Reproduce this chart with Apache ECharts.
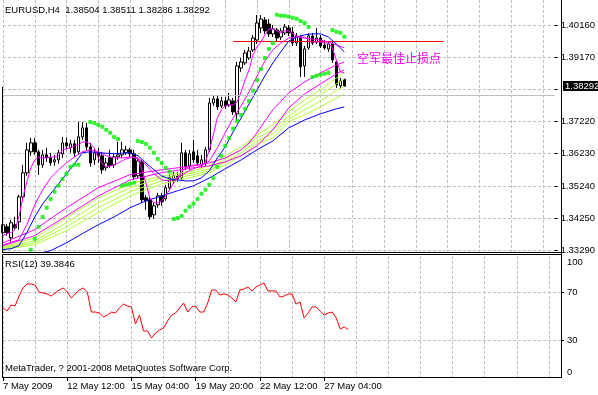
<!DOCTYPE html>
<html><head><meta charset="utf-8">
<script src="https://cdn.jsdelivr.net/npm/echarts@6.0.0/dist/echarts.min.js"></script>
<style>html,body{margin:0;padding:0;background:#fff}#c{width:598px;height:395px}</style>
</head><body><div id="c"></div>
<script>
const FONT = 'Liberation Sans';
const FS = 9.5;
const barCount = 140;
const categories = Array.from({length: barCount}, (_, i) => String(i));
const xTickLabels = ['7 May 2009', '12 May 12:00', '15 May 04:00', '19 May 20:00', '22 May 12:00', '27 May 04:00'];
const priceTicks = [1.33290, 1.34250, 1.35240, 1.36230, 1.37220, 1.38200, 1.39170, 1.40160];
const priceTickLabels = ['1.33290', '1.34250', '1.35240', '1.36230', '1.37220', '', '1.39170', '1.40160'];
const rsiTicks = [0, 30, 70, 100];
const titleText = 'EURUSD,H4  1.38504 1.38511 1.38286 1.38292';
const rsiTitle = 'RSI(12) 39.3846';
const copyright = 'MetaTrader, ? 2001-2008 MetaQuotes Software Corp.';
const noteText = '空军最佳止损点';
const bidPrice = 1.38292;
const bidLabel = '1.38292';
const stopLevel = 1.39656;
const stopFrom = 58, stopTo = 111;

// [open, close, low, high]
const candles = [
[1.33816,1.34060,1.33664,1.34152],[1.33999,1.33816,1.33725,1.34091],[1.33664,1.34121,1.33542,1.34213],
[1.34060,1.33969,1.33908,1.34304],[1.34152,1.34914,1.33908,1.34975],[1.34914,1.35646,1.34823,1.35890],
[1.35646,1.36348,1.35555,1.36561],[1.36287,1.36561,1.36165,1.36714],[1.36561,1.36287,1.36195,1.36714],
[1.36287,1.35890,1.35585,1.36348],[1.35890,1.36195,1.35799,1.36348],[1.36195,1.36104,1.35982,1.36409],
[1.36104,1.35951,1.35860,1.36256],[1.35982,1.36043,1.35860,1.36195],[1.36043,1.36256,1.35921,1.36348],
[1.36226,1.36561,1.36104,1.36744],[1.36561,1.36470,1.36348,1.36714],[1.36409,1.36531,1.36256,1.36653],
[1.36531,1.36256,1.36134,1.36653],[1.36287,1.36744,1.36226,1.37202],[1.36744,1.37019,1.36653,1.37202],
[1.37019,1.36439,1.36348,1.37171],[1.36439,1.35951,1.35829,1.36561],[1.36043,1.36256,1.35890,1.36409],
[1.36256,1.36165,1.35951,1.36409],[1.36165,1.35738,1.35616,1.36287],[1.35799,1.35951,1.35707,1.36104],
[1.36104,1.35860,1.35799,1.36348],[1.35890,1.36134,1.35799,1.36256],[1.36134,1.36195,1.36043,1.36592],
[1.36195,1.36348,1.36104,1.36592],[1.36256,1.36348,1.36195,1.36470],[1.36348,1.36226,1.36134,1.36409],
[1.36226,1.35524,1.35433,1.36348],[1.35555,1.36012,1.35494,1.36104],[1.35982,1.34823,1.34731,1.36043],
[1.34884,1.34792,1.34518,1.34975],[1.34823,1.34304,1.34213,1.34914],[1.34365,1.34640,1.34243,1.34731],
[1.34670,1.34945,1.34579,1.35036],[1.34945,1.34762,1.34640,1.35036],[1.34853,1.35189,1.34792,1.35280],
[1.35189,1.35494,1.35128,1.35585],[1.35402,1.35555,1.35311,1.35677],[1.35555,1.35463,1.35372,1.35677],
[1.35494,1.36256,1.35433,1.36561],[1.36256,1.35829,1.35738,1.36348],[1.35860,1.36226,1.35738,1.36348],
[1.36287,1.36043,1.35951,1.36653],[1.36165,1.35951,1.35860,1.36348],[1.35890,1.36043,1.35799,1.36195],
[1.35951,1.36348,1.35860,1.36439],[1.36348,1.37781,1.36287,1.37934],[1.37781,1.37903,1.37690,1.38025],
[1.37903,1.37659,1.37568,1.38025],[1.37690,1.37842,1.37629,1.37964],[1.37842,1.37690,1.37598,1.37964],
[1.37720,1.37873,1.37659,1.38086],[1.37842,1.37507,1.37415,1.37934],[1.37446,1.38910,1.37232,1.39032],
[1.38849,1.39032,1.38727,1.39154],[1.39001,1.39306,1.38940,1.39398],[1.39154,1.39367,1.39093,1.39489],
[1.39398,1.39764,1.39337,1.39855],[1.39703,1.40221,1.39581,1.40465],[1.40069,1.40343,1.39916,1.40465],
[1.40313,1.39977,1.39886,1.40404],[1.40191,1.39886,1.39794,1.40343],[1.39886,1.40038,1.39794,1.40160],
[1.40008,1.39764,1.39642,1.40069],[1.39794,1.39977,1.39703,1.40069],[1.39916,1.40099,1.39855,1.40191],
[1.40069,1.39916,1.39825,1.40160],[1.39947,1.39611,1.39520,1.40099],[1.39611,1.39825,1.39520,1.39916],
[1.39794,1.38879,1.38574,1.39855],[1.38910,1.39428,1.38574,1.39520],[1.39459,1.39825,1.39398,1.39916],
[1.39825,1.39611,1.39550,1.39916],[1.39642,1.39764,1.39581,1.40069],[1.39764,1.39520,1.39459,1.39855],
[1.39550,1.39459,1.39398,1.39703],[1.39428,1.39581,1.39337,1.39672],[1.39581,1.39093,1.39001,1.39642],
[1.39032,1.38330,1.38239,1.39093],[1.38300,1.38452,1.38208,1.38544],[1.38504,1.38292,1.38286,1.38511]
];

// Parabolic SAR dots [bar, price]
const sarDots = [
[7,1.3330],[8,1.3363],[9,1.3400],[10,1.3430],[11,1.3458],[12,1.3485],[13,1.3507],[14,1.3525],[15,1.3546],
[16,1.3562],[17,1.3583],[18,1.3589],[19,1.3589],
[22,1.3720],[23,1.3717],[24,1.3711],[25,1.3705],[26,1.3696],[27,1.3687],[28,1.3674],[29,1.3668],
[30,1.3525],[31,1.3528],[32,1.3531],[33,1.3534],
[34,1.3662],[35,1.3659],[36,1.3653],[37,1.3641],[38,1.3626],[39,1.3607],[40,1.3595],[41,1.3580],[42,1.3568],
[43,1.3424],[44,1.3427],[45,1.3433],[46,1.3449],[47,1.3461],[48,1.3470],[49,1.3485],[50,1.3501],[51,1.3513],
[52,1.3528],[53,1.3549],[54,1.3583],[55,1.3617],[56,1.3647],[57,1.3671],[58,1.3699],[59,1.3723],[60,1.3741],
[61,1.3760],[62,1.3784],[63,1.3815],[64,1.3848],[65,1.3882],[66,1.3915],[67,1.3943],[68,1.3961],
[69,1.4047],[70,1.4044],[71,1.4044],[72,1.4041],[73,1.4038],[74,1.4035],[75,1.4028],[76,1.4022],[77,1.4010],
[78,1.3857],[79,1.3861],[80,1.3864],[81,1.3867],[82,1.3870],
[83,1.4001],[84,1.3995],[85,1.3992],[86,1.3980]
];

// moving averages (read at the bars listed)
const maFast = [1.3373,1.3379,1.3382,1.3391,1.3430,1.3488,1.3537,1.3580,1.3604,1.3613,1.3610,1.3610,1.3613,1.3613,1.3617,1.3635,
1.3638,1.3641,1.3647,1.3650,1.3659,1.3659,1.3653,1.3641,1.3610,1.3592,1.3583,1.3586,1.3589,1.3595,1.3601,1.3607,1.3610,1.3613,
1.3607,1.3574,1.3534,1.3488,1.3473,1.3473,1.3479,1.3495,1.3513,1.3534,1.3549,1.3568,1.3580,1.3583,1.3589,1.3589,1.3589,1.3598,
1.3635,1.3681,1.3732,1.3757,1.3769,1.3772,1.3772,1.3781,1.3812,1.3848,1.3879,1.3925,1.3949,1.3964,1.3986,1.4004,1.4004,1.3998,
1.3992,1.3998,1.3998,1.3989,1.3982,1.3979,1.3979,1.3970,1.3964,1.3964,1.3964,1.3961,1.3961,1.3946,1.3909,1.3873,1.3870];
const magentaMidBars = [0,4,6,8,10,12,14,16,18,20,22,24,26,28,30,32,34,36,38,40,42,44,46,48,50,52,54,56,58,60,62,64,66,68,70,
72,74,76,78,80,82,84,86];
const magentaMid = [1.3345,1.3360,1.3406,1.3467,1.3513,1.3549,1.3574,1.3595,1.3613,1.3629,1.3635,1.3629,1.3617,1.3610,1.3610,
1.3613,1.3610,1.3589,1.3562,1.3543,1.3540,1.3549,1.3565,1.3577,1.3586,1.3601,1.3641,1.3687,1.3732,1.3769,1.3812,1.3860,
1.3906,1.3940,1.3961,1.3976,1.3979,1.3976,1.3973,1.3970,1.3964,1.3955,1.3946];
const blueFast = [[0,1.3330],[2,1.3333],[4,1.3342],[6,1.3382],[8,1.3430],[10,1.3470],[12,1.3501],[14,1.3531],[16,1.3562],
[18,1.3592],[20,1.3626],[22,1.3629],[24,1.3626],[28,1.3623],[32,1.3626],[34,1.3617],[36,1.3595],[38,1.3574],[40,1.3555],
[42,1.3546],[44,1.3543],[46,1.3540],[48,1.3540],[50,1.3549],[52,1.3571],[54,1.3610],[56,1.3644],[58,1.3690],[60,1.3732],
[62,1.3775],[64,1.3818],[66,1.3861],[68,1.3900],[70,1.3934],[72,1.3967],[74,1.3979],[76,1.3986],[78,1.3989],[80,1.3989],
[82,1.3979],[84,1.3958],[86,1.3934]];
const blueSlowBars = [0,4,8,12,16,20,24,28,32,36,40,44,48,52,56,60,64,68,72,76,80,84,86];
const blueSlow = [1.3293,1.3302,1.3315,1.3327,1.3351,1.3379,1.3406,1.3430,1.3458,1.3479,1.3494,1.3510,1.3525,1.3549,1.3577,
1.3604,1.3635,1.3662,1.3702,1.3726,1.3745,1.3760,1.3766];
const magenta3Bars = [0,8,16,24,32,40,48,52,56,60,62,64,66,68,72,76,80,84,86];
const magenta3 = [1.3351,1.3391,1.3458,1.3519,1.3559,1.3574,1.3586,1.3595,1.3610,1.3635,1.3656,1.3687,1.3723,1.3757,1.3809,
1.3842,1.3870,1.3894,1.3903];
const slowBars = [0,8,16,24,32,40,48,52,56,60,64,68,72,76,80,84,86];
const magenta4 = [1.3342,1.3373,1.3433,1.3494,1.3543,1.3565,1.3580,1.3586,1.3598,1.3617,1.3647,1.3696,1.3763,1.3806,1.3836,1.3867,1.3879];
const green1 = [1.3339,1.3366,1.3427,1.3488,1.3531,1.3555,1.3571,1.3586,1.3617,1.3644,1.3680,1.3711,1.3751,1.3787,1.3818,1.3854,1.3870];
const green2 = [1.3336,1.3357,1.3412,1.3473,1.3519,1.3549,1.3565,1.3577,1.3607,1.3635,1.3671,1.3696,1.3738,1.3772,1.3803,1.3836,1.3851];
const green3 = [1.3333,1.3351,1.3400,1.3458,1.3507,1.3540,1.3559,1.3571,1.3598,1.3626,1.3662,1.3684,1.3729,1.3757,1.3784,1.3815,1.3830];
const green4 = [1.3330,1.3345,1.3388,1.3443,1.3494,1.3531,1.3552,1.3565,1.3589,1.3617,1.3653,1.3671,1.3720,1.3742,1.3766,1.3793,1.3806];

const rsi = [57.0,54.5,59.5,58.7,66.9,73.6,76.9,76.9,76.0,70.2,69.4,68.6,66.9,69.4,71.9,73.6,70.2,65.3,68.6,71.9,73.6,70.2,
53.7,53.7,52.9,49.6,51.2,53.7,52.9,57.0,60.3,58.7,57.9,43.8,51.2,38.0,38.0,32.2,36.4,38.8,40.5,46.3,51.2,52.9,57.0,61.2,
53.7,57.9,58.7,53.7,53.7,61.2,71.9,71.9,67.8,68.6,67.8,65.3,62.0,71.9,72.7,74.4,71.1,74.4,76.0,77.7,71.1,71.1,71.1,66.1,
66.9,68.6,68.6,60.3,62.0,48.8,52.9,57.9,57.9,54.5,51.2,52.9,53.7,48.8,39.7,41.3,39.3846];

const pair = (bars, vals) => bars.map((b, k) => [b, vals[k]]);
const grid = {color: '#c0c0c0', type: [3, 2], width: 1};
const txt = {fontFamily: FONT, fontSize: FS, color: '#000'};
const font = FS + 'px "' + FONT + '"';
const GREEN = '#adff2f', MAG = '#ff00ff', BLUE = '#0000ff';

function lineSeries(data, color, z) {
  return {type: 'line', xAxisIndex: 0, yAxisIndex: 0, data, symbol: 'none', showSymbol: false, silent: true,
    lineStyle: {color, width: 1}, z: z || 3, clip: true};
}

const chart = echarts.init(document.getElementById('c'), null, {renderer: 'canvas'});
chart.setOption({
  animation: false,
  backgroundColor: '#fff',
  grid: [
    {left: 3, width: 558, top: 0, height: 252, show: false},
    {left: 3, width: 558, top: 256, height: 121, show: false}
  ],
  xAxis: [
    {gridIndex: 0, type: 'category', data: categories, boundaryGap: false,
     axisLine: {show: false}, axisTick: {show: false}, axisLabel: {show: false},
     splitLine: {show: true, interval: 7, lineStyle: grid}},
    {gridIndex: 1, type: 'category', data: categories, boundaryGap: false, position: 'bottom',
     axisLine: {show: true, lineStyle: {color: '#000', width: 1}},
     axisTick: {show: true, length: 4, interval: (i) => i % 16 === 0 && i / 16 < xTickLabels.length, lineStyle: {color: '#000'}},
     axisLabel: Object.assign({show: true, interval: (i) => i % 16 === 0 && i / 16 < xTickLabels.length,
       formatter: (v) => xTickLabels[Math.round(Number(v) / 16)] || '', align: 'left', margin: 4}, txt),
     splitLine: {show: true, interval: 7, lineStyle: grid}}
  ],
  yAxis: [
    {gridIndex: 0, type: 'value', position: 'right', min: 1.33229, max: 1.40923, scale: true,
     axisLine: {show: false},
     axisTick: {show: true, length: 3, customValues: priceTicks, lineStyle: {color: '#000'}},
     axisLabel: Object.assign({customValues: priceTicks, margin: 6,
       formatter: (v) => { const k = priceTicks.findIndex(t => Math.abs(t - v) < 1e-7); return k >= 0 ? priceTickLabels[k] : ''; }}, txt),
     splitLine: {show: true, lineStyle: grid}},
    {gridIndex: 1, type: 'value', position: 'right', min: 0, max: 100,
     axisLine: {show: false},
     axisTick: {show: true, length: 3, customValues: [30, 70], lineStyle: {color: '#000'}},
     axisLabel: Object.assign({customValues: rsiTicks, margin: 6,
       formatter: (v) => v === 100 ? '{t|100}' : v === 0 ? '{b|0}' : String(v),
       rich: {t: {padding: [12, 0, 0, 0], fontFamily: FONT, fontSize: FS, color: '#000'},
              b: {padding: [0, 0, 10, 0], fontFamily: FONT, fontSize: FS, color: '#000'}}}, txt),
     splitLine: {show: true, lineStyle: grid}}
  ],
  series: [
    {type: 'candlestick', xAxisIndex: 0, yAxisIndex: 0, data: candles, barWidth: 3, silent: true, z: 2,
     itemStyle: {color: '#ffffff', color0: '#000000', borderColor: '#000000', borderColor0: '#000000', borderWidth: 1},
     markLine: {silent: true, symbol: 'none', animation: false, label: {show: false},
       lineStyle: {color: '#c0c0c0', width: 1, type: 'solid'},
       data: [{yAxis: bidPrice}]}},
    lineSeries([[stopFrom, stopLevel], [stopTo, stopLevel]], '#ff0000', 3),
    lineSeries(pair(slowBars, green4), GREEN),
    lineSeries(pair(slowBars, green3), GREEN),
    lineSeries(pair(slowBars, green2), GREEN),
    lineSeries(pair(slowBars, green1), GREEN),
    lineSeries(pair(slowBars, magenta4), MAG),
    lineSeries(pair(magenta3Bars, magenta3), MAG),
    lineSeries(pair(blueSlowBars, blueSlow), BLUE),
    lineSeries(pair(magentaMidBars, magentaMid), MAG),
    lineSeries(blueFast, BLUE),
    lineSeries(maFast.map((v, i) => [i, v]), MAG, 4),
    {type: 'scatter', xAxisIndex: 0, yAxisIndex: 0, data: sarDots, symbol: 'roundRect', symbolSize: 4, silent: true, z: 5,
     itemStyle: {color: '#00f000'}},
    {type: 'line', xAxisIndex: 1, yAxisIndex: 1, data: rsi, symbol: 'none', silent: true,
     lineStyle: {color: '#ff0000', width: 1}}
  ],
  graphic: [
    {type: 'text', left: 5, top: 5, style: {text: titleText, font, fill: '#000'}, z: 100},
    {type: 'text', left: 5, top: 259, style: {text: rsiTitle, font, fill: '#000'}, z: 100},
    {type: 'text', left: 5, top: 363, style: {text: copyright, font, fill: '#000'}, z: 100},
    {type: 'text', left: 357, top: 52, style: {text: noteText, font: '12px "Noto Sans CJK SC"', fill: '#ff00ff'}, z: 100},
    {type: 'line', shape: {x1: 2.5, y1: 87, x2: 2.5, y2: 252}, style: {stroke: '#000', lineWidth: 1}, z: 100},
    {type: 'line', shape: {x1: 2, y1: 252.5, x2: 561, y2: 252.5}, style: {stroke: '#000', lineWidth: 1}, z: 100},
    {type: 'line', shape: {x1: 561.5, y1: 0, x2: 561.5, y2: 378}, style: {stroke: '#000', lineWidth: 1}, z: 100},
    {type: 'rect', shape: {x: 2.5, y: 254.5, width: 559, height: 123}, style: {stroke: '#000', fill: null, lineWidth: 1}, z: 100}
  ]
});
// current price box on the price scale
const bidY = Math.round(chart.convertToPixel({yAxisIndex: 0}, bidPrice));
chart.setOption({graphic: [
  {type: 'rect', id: 'bidbox', shape: {x: 563, y: bidY - 5, width: 35, height: 10}, style: {fill: '#000'}, z: 110},
  {type: 'text', id: 'bidtxt', x: 565, y: bidY, style: {text: bidLabel, font, fill: '#fff', textVerticalAlign: 'middle'}, z: 111}
]});
</script></body></html>
